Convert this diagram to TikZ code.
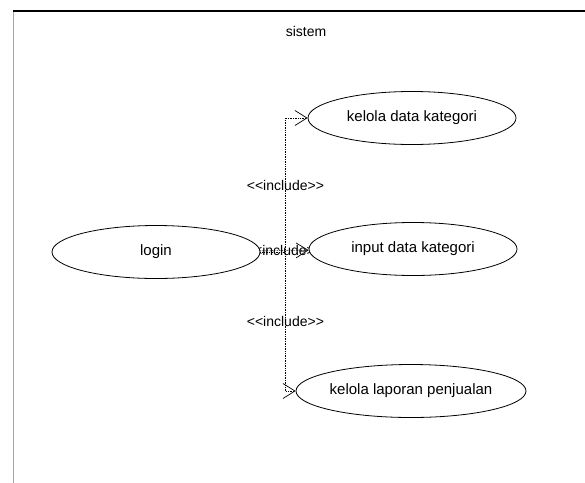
\documentclass[tikz,border=0pt]{standalone}
\usepackage{fontspec}
\setmainfont{Liberation Sans}
\usetikzlibrary{arrows.meta, shapes.geometric, backgrounds}

\begin{document}
\begin{tikzpicture}[x=1pt, y=-1pt,
    usecase/.style={draw, ellipse, fill=white, line width=0.8pt,
                    minimum width=208pt, minimum height=53pt, inner sep=0pt,
                    font=\fontsize{15}{18}\selectfont},
    include/.style={densely dotted, line width=0.7pt,
                    -{Straight Barb[length=12pt, width=15pt]}},
    stereo/.style={font=\fontsize{14}{16}\selectfont, inner sep=1pt}]
  \useasboundingbox (0,0) rectangle (585,482);
  % batas sistem
  \draw[gray!70, line width=0.8pt] (13,495) -- (13,11);
  \draw[line width=1.6pt] (13,11) -- (600,11);
  \node[font=\fontsize{14}{16}\selectfont] (sistem) at (306,31) {sistem};

  % use case
  \node[usecase] (login) at (156,252) {login};
  \node[usecase] (kdk) at (412,118) {kelola data kategori};
  \node[usecase] (idk) at (413,249) {input data kategori};
  \node[usecase] (klp) at (411,391) {kelola laporan penjualan};

  % relasi include
  \begin{scope}[on background layer]
    \draw[include] (login.east) -- ++(25,0) |- node[stereo, pos=0.25] {<{}<include>{}>} (kdk.west);
    \draw[include] (login) -- node[stereo] {<{}<include>{}>} (idk);
    \draw[include] (login.east) -- ++(25,0) |- node[stereo, pos=0.25] {<{}<include>{}>} (klp.west);
  \end{scope}
\end{tikzpicture}
\end{document}
